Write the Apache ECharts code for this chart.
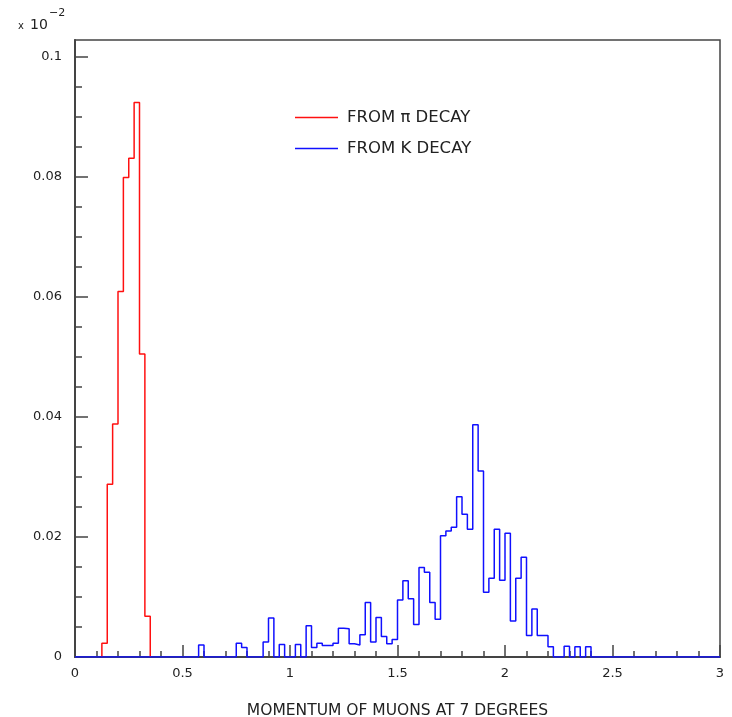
<!DOCTYPE html>
<html>
<head>
<meta charset="utf-8">
<script src="https://cdn.jsdelivr.net/npm/echarts@6/dist/echarts.min.js"></script>
<style>
html,body{margin:0;padding:0;background:#fff;}
#chart{width:732px;height:717px;}
</style>
</head>
<body>
<div id="chart"></div>
<script>
// Histogram bin width (GeV/c) and bin contents (x 10^-2)
const binWidth = 0.025;
const seriesNames = ['FROM \u03c0 DECAY', 'FROM K DECAY'];
const piFirstEdge = 0.125;
const piValues = [0.0023, 0.0288, 0.0388, 0.0609, 0.0799, 0.0831, 0.0924, 0.0505, 0.0068];
const kFirstEdge = 0.575;
const kValues = [
  0.0020, 0, 0, 0, 0, 0, 0, 0.0023, 0.0016, 0, 0, 0,
  0.0025, 0.0065, 0, 0.0021, 0, 0, 0.0021, 0, 0.0052, 0.0016,
  0.0023, 0.0019, 0.0019, 0.0023, 0.0048, 0.0047, 0.0022, 0.0020,
  0.0037, 0.0091, 0.0025, 0.0066, 0.0034, 0.0022, 0.0029, 0.0095,
  0.0127, 0.0097, 0.0054, 0.0149, 0.0141, 0.0091, 0.0063, 0.0202,
  0.0210, 0.0216, 0.0267, 0.0238, 0.0213, 0.0387, 0.0310, 0.0108,
  0.0131, 0.0213, 0.0128, 0.0206, 0.0060, 0.0131, 0.0166, 0.0036,
  0.0080, 0.0036, 0.0036, 0.0017, 0, 0, 0.0018, 0, 0.0017, 0, 0.0017
];
const xRange = [0, 3];
const yMax = 0.1028;
const yMajorTicks = [0, 0.02, 0.04, 0.06, 0.08, 0.1];
const yMinorTicks = [0.005, 0.01, 0.015, 0.025, 0.03, 0.035, 0.045, 0.05, 0.055,
  0.065, 0.07, 0.075, 0.085, 0.09, 0.095];
const xAxisTitle = 'MOMENTUM OF MUONS AT 7 DEGREES';

function stepPoints(firstEdge, values, fullRange) {
  const pts = [[fullRange ? xRange[0] : firstEdge, 0]];
  values.forEach(function (v, i) {
    pts.push([+(firstEdge + i * binWidth).toFixed(4), v]);
  });
  pts.push([+(firstEdge + values.length * binWidth).toFixed(4), 0]);
  if (fullRange) pts.push([xRange[1], 0]);
  return pts;
}

const FONT = 'DejaVu Sans';
const AX = '#444';
const chart = echarts.init(document.getElementById('chart'), null, {renderer: 'canvas'});
chart.setOption({
  animation: false,
  backgroundColor: '#fff',
  textStyle: {fontFamily: FONT},
  grid: {left: 75, right: 12, top: 40, bottom: 60, show: true, borderColor: AX, borderWidth: 1.5,
         containLabel: false, outerBoundsMode: 'none'},
  legend: {
    data: seriesNames,
    orient: 'vertical',
    left: 290,
    top: 104,
    icon: 'rect',
    itemWidth: 43,
    itemHeight: 1.5,
    itemGap: 14,
    textStyle: {fontFamily: FONT, fontSize: 16.5, color: '#222', lineHeight: 17, padding: [0, 0, 0, 4]}
  },
  graphic: [
    {type: 'text', left: 18, top: 21, style: {text: 'x', font: '10px ' + FONT, fill: '#222'}},
    {type: 'text', left: 30, top: 18, style: {text: '10', font: '14px ' + FONT, fill: '#222'}},
    {type: 'text', left: 49, top: 8, style: {text: '\u22122', font: '11px ' + FONT, fill: '#222'}}
  ],
  xAxis: {
    type: 'value',
    min: xRange[0], max: xRange[1], interval: 0.5,
    name: xAxisTitle,
    nameLocation: 'middle',
    nameGap: 46,
    nameTextStyle: {fontFamily: FONT, fontSize: 15.5, color: '#222'},
    axisLine: {lineStyle: {color: AX, width: 2}},
    axisTick: {inside: true, length: 12, lineStyle: {color: AX, width: 1.5}},
    minorTick: {show: true, splitNumber: 5, length: 6, lineStyle: {color: AX, width: 1.5}},
    splitLine: {show: false},
    axisLabel: {margin: 10, fontFamily: FONT, fontSize: 13, color: '#222'}
  },
  yAxis: [
    {
      type: 'value', min: 0, max: yMax, position: 'left',
      axisLine: {show: true, lineStyle: {color: AX, width: 2}},
      axisTick: {show: true, inside: true, length: 13, customValues: yMajorTicks, lineStyle: {color: AX, width: 1.5}},
      axisLabel: {customValues: yMajorTicks, margin: 13, fontFamily: FONT, fontSize: 13, color: '#222'},
      splitLine: {show: false}
    },
    {
      type: 'value', min: 0, max: yMax, position: 'left', offset: 0,
      axisLine: {show: false},
      axisTick: {show: true, inside: true, length: 7, customValues: yMinorTicks, lineStyle: {color: AX, width: 1.5}},
      axisLabel: {show: false},
      splitLine: {show: false}
    }
  ],
  series: [
    {
      name: seriesNames[0], type: 'line', step: 'end', symbol: 'none',
      yAxisIndex: 0, z: 3,
      lineStyle: {color: '#ff1010', width: 1.5}, itemStyle: {color: '#ff1010'},
      data: stepPoints(piFirstEdge, piValues, false)
    },
    {
      name: seriesNames[1], type: 'line', step: 'end', symbol: 'none',
      yAxisIndex: 0, z: 4,
      lineStyle: {color: '#1010ff', width: 1.5}, itemStyle: {color: '#1010ff'},
      data: stepPoints(kFirstEdge, kValues, true)
    }
  ]
});
</script>
</body>
</html>
